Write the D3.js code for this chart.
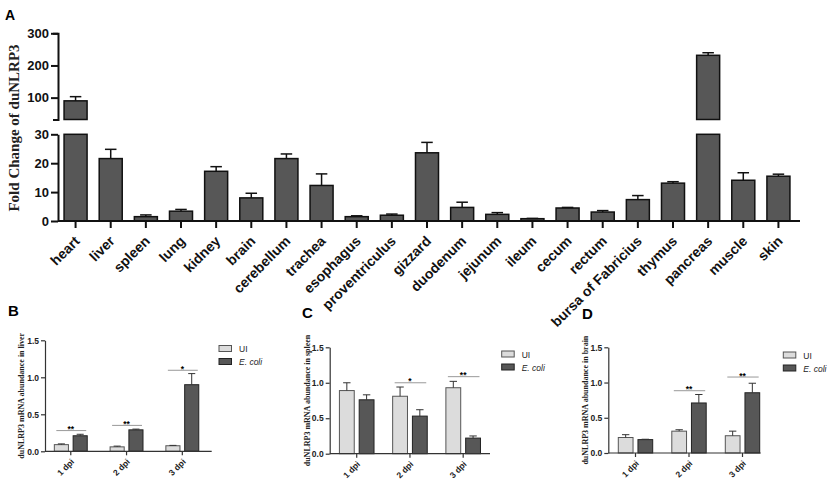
<!DOCTYPE html>
<html lang="en">
<head>
<meta charset="utf-8">
<title>duNLRP3</title>
<script src="https://cdn.jsdelivr.net/npm/d3@7"></script>
<style>
  body { margin: 0; background: #fff; }
  svg { display: block; font-family: Arial, "Liberation Sans", sans-serif; }
  .axis path, .axis line { stroke: #111; }
  .axisA path, .axisA line { stroke-width: 2; }
  .axisA text { font-size: 13px; font-weight: bold; fill: #111; }
  .axisS path, .axisS line { stroke-width: 1.2; stroke: #333; }
  .axisS text { font-size: 8.5px; font-weight: bold; fill: #222; }
  .ylab { font-family: "Times New Roman", "Liberation Serif", serif; font-weight: bold; }
</style>
</head>
<body>
<div id="chart"></div>
<script>
"use strict"
// --- panel A: fold change per tissue ---
var tissues = ["heart", "liver", "spleen", "lung", "kidney", "brain", "cerebellum", "trachea",
  "esophagus", "proventriculus", "gizzard", "duodenum", "jejunum", "ileum", "cecum", "rectum",
  "bursa of Fabricius", "thymus", "pancreas", "muscle", "skin"];
var foldChange = [90, 21.6, 1.5, 3.4, 17.2, 8.0, 21.6, 12.3, 1.5, 2.0, 23.6, 4.7, 2.3, 0.8, 4.5, 3.1,
  7.4, 13.1, 231.6, 14.1, 15.5];
var foldSem = [13, 3.2, 0.6, 0.6, 1.6, 1.6, 1.6, 4.0, 0.3, 0.4, 3.6, 1.8, 0.6, 0.1, 0.2, 0.5,
  1.4, 0.5, 8, 2.6, 0.7];
var ticksLow = [0, 10, 20, 30];
var ticksHigh = [100, 200, 300];

// --- panels B-D: infection time course ---
var days = ["1 dpi", "2 dpi", "3 dpi"];
var groups = ["UI", "E. coli"];
var subTicks = [0, 0.5, 1.0, 1.5];

var liverUI = [0.09, 0.06, 0.075], liverUISem = [0.01, 0.01, 0.005];
var liverEcoli = [0.21, 0.29, 0.90], liverEcoliSem = [0.02, 0.01, 0.15];
var liverStars = ["**", "**", "*"], liverStarAt = [0.28, 0.35, 1.095];

var spleenUI = [0.89, 0.81, 0.93], spleenUISem = [0.11, 0.13, 0.09];
var spleenEcoli = [0.76, 0.53, 0.22], spleenEcoliSem = [0.07, 0.09, 0.03];
var spleenStars = ["", "*", "**"], spleenStarAt = [0, 1.0, 1.086];

var brainUI = [0.22, 0.31, 0.245], brainUISem = [0.04, 0.02, 0.065];
var brainEcoli = [0.19, 0.71, 0.855], brainEcoliSem = [0.005, 0.12, 0.135];
var brainStars = ["", "**", "**"], brainStarAt = [0, 0.884, 1.078];

var corEscura = "#575757", corClara = "#dcdcdc";

var svg = d3.select('#chart').append('svg')
  .attr('width', 829).attr('height', 482);

/*
 * Painel A (eixo quebrado)
 */
var gA = svg.append('g');
var eixoX = 58, fimEixo = 800;
var xA = d3.scaleBand().domain(tissues).range([58, 796]).paddingInner(0.345).paddingOuter(0.1725);
var yLow = d3.scaleLinear().domain([0, 30]).range([221, 134.3]);
var yHigh = d3.scaleLinear().domain([32, 300]).range([119.5, 33.3]);
var dadosA = tissues.map((t, i) => ({t: t, v: foldChange[i], e: foldSem[i]}));

gA.selectAll('.barLow').data(dadosA).enter().append('rect')
  .attr('class', 'barLow')
  .attr('x', d => xA(d.t)).attr('width', xA.bandwidth())
  .attr('y', d => yLow(Math.min(d.v, 30)))
  .attr('height', d => yLow(0) - yLow(Math.min(d.v, 30)))
  .attr('fill', corEscura).attr('stroke', '#111').attr('stroke-width', 1.5);

gA.selectAll('.barHigh').data(dadosA.filter(d => d.v > 32)).enter().append('rect')
  .attr('class', 'barHigh')
  .attr('x', d => xA(d.t)).attr('width', xA.bandwidth())
  .attr('y', d => yHigh(d.v))
  .attr('height', d => yHigh(32) - yHigh(d.v))
  .attr('fill', corEscura).attr('stroke', '#111').attr('stroke-width', 1.5);

var erros = gA.selectAll('.err').data(dadosA).enter().append('g').attr('class', 'err')
  .attr('stroke', '#111').attr('stroke-width', 1.5);
var ys = d => (d.v > 30 ? yHigh : yLow);
erros.append('line')
  .attr('x1', d => xA(d.t) + xA.bandwidth() / 2).attr('x2', d => xA(d.t) + xA.bandwidth() / 2)
  .attr('y1', d => ys(d)(d.v)).attr('y2', d => ys(d)(d.v + d.e));
erros.append('line')
  .attr('x1', d => xA(d.t) + xA.bandwidth() / 4).attr('x2', d => xA(d.t) + xA.bandwidth() * 3 / 4)
  .attr('y1', d => ys(d)(d.v + d.e)).attr('y2', d => ys(d)(d.v + d.e));

gA.append('g').attr('class', 'axis axisA').attr('transform', 'translate(' + eixoX + ',0)')
  .call(d3.axisLeft(yLow).tickValues(ticksLow).tickSize(7).tickSizeOuter(0).tickPadding(2));
gA.append('g').attr('class', 'axis axisA').attr('transform', 'translate(' + eixoX + ',0)')
  .call(d3.axisLeft(yHigh).tickValues(ticksHigh).tickSize(7).tickSizeOuter(5).tickPadding(2));
var eixoBaixo = gA.append('g').attr('class', 'axis axisA').attr('transform', 'translate(0,' + yLow(0) + ')')
  .call(d3.axisBottom(xA).tickSize(7).tickSizeOuter(0).tickFormat(''));
eixoBaixo.select('.domain').attr('d', 'M' + eixoX + ',0H' + fimEixo);

// rotulos girados: g posiciona, text gira
gA.selectAll('.xlab').data(tissues).enter().append('g')
  .attr('class', 'xlab')
  .attr('transform', d => 'translate(' + (xA(d) + xA.bandwidth() / 2 + 5) + ',' + (yLow(0) + 21) + ')')
  .append('text')
    .attr('transform', 'rotate(-45)')
    .attr('text-anchor', 'end')
    .style('font-size', '14px').style('font-weight', 'bold').style('fill', '#111')
    .text(d => d);

gA.append('text').attr('class', 'ylab')
  .attr('transform', 'translate(19,128) rotate(-90)')
  .attr('text-anchor', 'middle').style('font-size', '15px').style('fill', '#222')
  .text('Fold Change of duNLRP3');

gA.append('text').attr('x', 5).attr('y', 19.5)
  .style('font-size', '14px').style('font-weight', 'bold').text('A');

/*
 * Paineis B, C, D
 */
function painel(cfg) {
  var g = svg.append('g');
  var y = d3.scaleLinear().domain([0, 1.5]).range([cfg.y0, cfg.y1]);
  var x0 = d3.scaleBand().domain(days).range(cfg.band).paddingInner(cfg.pad).paddingOuter(cfg.pad / 2);
  var x1 = d3.scaleBand().domain(groups).range([0, x0.bandwidth()]).paddingInner(0.25);
  var dados = [];
  days.forEach((d, i) => {
    dados.push({dia: d, grupo: "UI", v: cfg.ui[i], e: cfg.uiSem[i]});
    dados.push({dia: d, grupo: "E. coli", v: cfg.ec[i], e: cfg.ecSem[i]});
  });
  var bx = d => x0(d.dia) + x1(d.grupo);

  g.selectAll('.bar').data(dados).enter().append('rect')
    .attr('x', bx).attr('width', x1.bandwidth())
    .attr('y', d => y(d.v)).attr('height', d => y(0) - y(d.v))
    .attr('fill', d => d.grupo == "UI" ? corClara : corEscura)
    .attr('stroke', d => d.grupo == "UI" ? '#555' : '#222').attr('stroke-width', 1);

  var er = g.selectAll('.err').data(dados).enter().append('g')
    .attr('stroke', '#333').attr('stroke-width', 1);
  er.append('line')
    .attr('x1', d => bx(d) + x1.bandwidth() / 2).attr('x2', d => bx(d) + x1.bandwidth() / 2)
    .attr('y1', d => y(d.v)).attr('y2', d => y(d.v + d.e));
  er.append('line')
    .attr('x1', d => bx(d) + x1.bandwidth() / 4).attr('x2', d => bx(d) + x1.bandwidth() * 3 / 4)
    .attr('y1', d => y(d.v + d.e)).attr('y2', d => y(d.v + d.e));

  var sig = days.map((d, i) => ({dia: d, s: cfg.stars[i], at: cfg.starAt[i]})).filter(d => d.s != "");
  g.selectAll('.sig').data(sig).enter().append('line')
    .attr('x1', d => x0(d.dia) + 2).attr('x2', d => x0(d.dia) + x0.bandwidth() - 1)
    .attr('y1', d => y(d.at)).attr('y2', d => y(d.at))
    .attr('stroke', '#999').attr('stroke-width', 1);
  g.selectAll('.star').data(sig).enter().append('text')
    .attr('x', d => x0(d.dia) + x0.bandwidth() / 2).attr('y', d => y(d.at) + 1.5)
    .attr('text-anchor', 'middle').style('font-size', '8.5px').style('font-weight', 'bold')
    .text(d => d.s);

  g.append('g').attr('class', 'axis axisS').attr('transform', 'translate(' + cfg.axisX + ',0)')
    .call(d3.axisLeft(y).tickValues(subTicks).tickFormat(d3.format('.1f')).tickSize(4).tickSizeOuter(0).tickPadding(2));
  var ex = g.append('g').attr('class', 'axis axisS').attr('transform', 'translate(0,' + y(0) + ')')
    .call(d3.axisBottom(x0).tickSize(4).tickSizeOuter(0).tickFormat(''));
  ex.select('.domain').attr('d', 'M' + cfg.axisX + ',0H' + cfg.axisEnd);

  g.selectAll('.xl').data(days).enter().append('g')
    .attr('transform', d => 'translate(' + (x0(d) + x0.bandwidth() / 2 + 4) + ',' + (y(0) + 11) + ')')
    .append('text')
      .attr('transform', 'rotate(-45)')
      .attr('text-anchor', 'end').style('font-size', '8.5px').style('font-weight', 'bold').style('fill', '#222')
      .text(d => d);

  g.append('text').attr('class', 'ylab')
    .attr('transform', 'translate(' + cfg.yLabX + ',' + (cfg.y0 + cfg.y1) / 2 + ') rotate(-90)')
    .attr('text-anchor', 'middle').style('font-size', '8px').style('fill', '#222')
    .text(cfg.title);

  g.append('text').attr('x', cfg.labelX).attr('y', cfg.labelY)
    .style('font-size', '15px').style('font-weight', 'bold').text(cfg.letra);

  var leg = g.selectAll('.leg').data(groups).enter().append('g')
    .attr('transform', (d, i) => 'translate(' + cfg.legX + ',' + (cfg.legY + i * 13) + ')');
  leg.append('rect').attr('width', 12.5).attr('height', 6)
    .attr('fill', d => d == "UI" ? corClara : corEscura)
    .attr('stroke', d => d == "UI" ? '#555' : '#222').attr('stroke-width', 1);
  leg.append('text').attr('x', 20).attr('y', 6.5)
    .style('font-size', '8.5px').style('fill', '#222')
    .style('font-style', d => d == "UI" ? 'normal' : 'italic')
    .text(d => d);
}

painel({letra: 'B', labelX: 8, labelY: 315.7, axisX: 45, axisEnd: 211.7, y0: 451.3, y1: 340.3,
  band: [42.9, 210.2], pad: 0.41, yLabX: 24, legX: 219, legY: 345.5,
  title: 'duNLRP3 mRNA abundance in liver',
  ui: liverUI, uiSem: liverUISem, ec: liverEcoli, ecSem: liverEcoliSem, stars: liverStars, starAt: liverStarAt});
painel({letra: 'C', labelX: 302, labelY: 318, axisX: 329.7, axisEnd: 490, y0: 453.7, y1: 347.3,
  band: [330.1, 489.8], pad: 0.35, yLabX: 310, legX: 501.7, legY: 351,
  title: 'duNLRP3 mRNA abundance in spleen',
  ui: spleenUI, uiSem: spleenUISem, ec: spleenEcoli, ecSem: spleenEcoliSem, stars: spleenStars, starAt: spleenStarAt});
painel({letra: 'D', labelX: 582, labelY: 319, axisX: 608.3, axisEnd: 760.7, y0: 453, y1: 347.3,
  band: [608.75, 769.25], pad: 0.357, yLabX: 588, legX: 783.3, legY: 352,
  title: 'duNLRP3 mRNA abundance in brain',
  ui: brainUI, uiSem: brainUISem, ec: brainEcoli, ecSem: brainEcoliSem, stars: brainStars, starAt: brainStarAt});
</script>
</body>
</html>
